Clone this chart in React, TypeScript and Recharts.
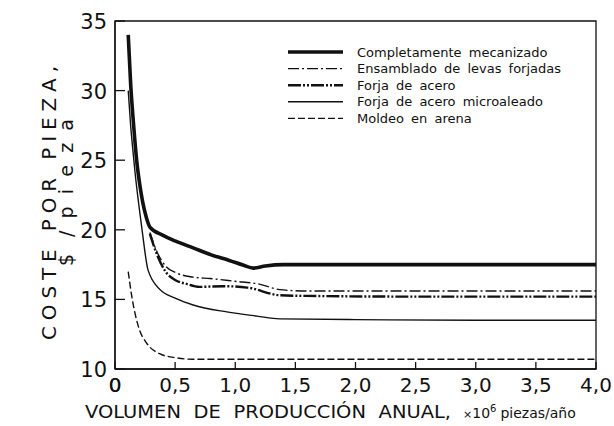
import { LineChart, Line, XAxis, YAxis, ReferenceArea, Legend } from "recharts"

const X_TICKS = [0, 0.5, 1, 1.5, 2, 2.5, 3, 3.5, 4]
const Y_TICKS = [10, 15, 20, 25, 30, 35]

// Coste por pieza ($/pieza) vs volumen anual (x 10^6 piezas/año)
const mecanizadoX = [0.11, 0.13, 0.155, 0.18, 0.205, 0.23, 0.26, 0.29, 0.4, 0.5, 0.65, 0.8, 0.95, 1.07, 1.15, 1.25, 1.4, 2.0, 3.0, 4.0]
const mecanizadoY = [34, 30.5, 27.5, 25, 23.3, 22, 20.9, 20.2, 19.6, 19.2, 18.7, 18.2, 17.8, 17.45, 17.25, 17.4, 17.5, 17.5, 17.5, 17.5]

const levasX = [0.29, 0.35, 0.42, 0.51, 0.65, 0.79, 1.0, 1.2, 1.37, 1.6, 2.5, 4.0]
const levasY = [19.8, 18.4, 17.4, 16.9, 16.6, 16.5, 16.3, 16.1, 15.7, 15.6, 15.6, 15.6]

const forjaX = [0.29, 0.35, 0.42, 0.5, 0.6, 0.7, 0.9, 1.1, 1.37, 1.6, 2.5, 4.0]
const forjaY = [19.7, 18.2, 17.0, 16.4, 16.1, 15.9, 15.95, 15.85, 15.3, 15.25, 15.2, 15.2]

const microX = [0.11, 0.13, 0.15, 0.167, 0.195, 0.225, 0.275, 0.375, 0.5, 0.65, 0.93, 1.18, 1.37, 2.0, 3.0, 4.0]
const microY = [30, 27.5, 25.6, 24.1, 22, 20, 17.1, 15.7, 15.1, 14.6, 14.1, 13.8, 13.6, 13.55, 13.5, 13.5]

const arenaX = [0.11, 0.14, 0.2, 0.26, 0.37, 0.51, 0.65, 1.0, 2.0, 3.0, 4.0]
const arenaY = [17, 15.2, 12.9, 11.9, 11.1, 10.8, 10.7, 10.7, 10.7, 10.7, 10.7]

const SERIES_NAMES = [
  "Completamente mecanizado",
  "Ensamblado de levas forjadas",
  "Forja de acero",
  "Forja de acero microaleado",
  "Moldeo en arena",
]

const toPoints = (xs: number[], ys: number[]) => xs.map((x, i) => ({ x, y: ys[i] }))

const SERIES = [
  { name: SERIES_NAMES[0], data: toPoints(mecanizadoX, mecanizadoY), width: 3.6, dash: undefined },
  { name: SERIES_NAMES[1], data: toPoints(levasX, levasY), width: 1.4, dash: "11 3 2 3" },
  { name: SERIES_NAMES[2], data: toPoints(forjaX, forjaY), width: 2.4, dash: "13 2 2 2 2 2" },
  { name: SERIES_NAMES[3], data: toPoints(microX, microY), width: 1.4, dash: undefined },
  { name: SERIES_NAMES[4], data: toPoints(arenaX, arenaY), width: 1.4, dash: "7 3" },
]

const INK = "#111"
const FONT = "DejaVu Sans, sans-serif"

// plot box edges in page pixels (from the chart margins below)
const PLOT_LEFT = 115
const PLOT_BOTTOM = 369

const fmtX = (v: number) => (Math.abs(Number(v)) < 1e-6 ? "0" : Number(v).toFixed(1).replace(".", ","))

function renderYTick(props: any) {
  const { x, y, payload } = props
  return (
    <g key={`yt-${payload.value}`}>
      <line x1={x} x2={x + 10} y1={y} y2={y} stroke={INK} strokeWidth={1.3} />
      <text x={x - 8} y={y + 1} textAnchor="end" dominantBaseline="central" fontSize={21} fontFamily={FONT} fill={INK}>
        {payload.value}
      </text>
    </g>
  )
}

function XTitle() {
  return (
    <g fill={INK} fontFamily={FONT}>
      <text x={85} y={418} fontSize={18} textLength={366} lengthAdjust="spacingAndGlyphs" wordSpacing={6}>
        VOLUMEN DE PRODUCCIÓN ANUAL,
      </text>
      <text x={463} y={418} fontSize={14}>
        <tspan fontSize={11}>×</tspan>
        <tspan>10</tspan>
        <tspan fontSize={10} dy={-6}>6</tspan>
        <tspan dy={6} dx={4}>piezas/año</tspan>
      </text>
    </g>
  )
}

function YTitle() {
  return (
    <g fill={INK} fontFamily={FONT}>
      <text
        x={0}
        y={0}
        transform="translate(56 203) rotate(-90)"
        textAnchor="middle"
        fontSize={20}
        textLength={274}
        lengthAdjust="spacing"
      >
        COSTE POR PIEZA,
      </text>
      <text x={0} y={0} transform="translate(73 266) rotate(-90)" fontSize={19}>
        $
      </text>
      <text x={0} y={0} transform="translate(73 237) rotate(-90)" fontSize={19} textLength={118} lengthAdjust="spacing">
        /pieza
      </text>
    </g>
  )
}

function LegendBox() {
  return (
    <svg width={330} height={90} style={{ display: "block" }}>
      {SERIES.map((s, i) => {
        const y = 10 + i * 16.6
        return (
          <g key={s.name}>
            <line x1={3} x2={58} y1={y} y2={y} stroke={INK} strokeWidth={s.width} strokeDasharray={s.dash} />
            <text x={72} y={y} dominantBaseline="central" fontSize={13} fontFamily={FONT} fill={INK} wordSpacing={3}>
              {s.name}
            </text>
          </g>
        )
      })}
    </svg>
  )
}

export default function App() {
  return (
    <div style={{ position: "fixed", left: 0, top: 0, width: 614, height: 426, background: "#fff" }}>
      <LineChart width={614} height={426} margin={{ top: 21, right: 18, bottom: 0, left: 0 }}>
        <ReferenceArea x1={0} x2={4} y1={10} y2={35} fill="none" stroke={INK} strokeWidth={1.3} />
        <XAxis
          type="number"
          dataKey="x"
          domain={[0, 4]}
          ticks={X_TICKS}
          interval={0}
          height={57}
          tickSize={-7}
          tickMargin={16}
          tickFormatter={fmtX}
          tick={{ fontSize: 20, fontFamily: FONT, fill: INK }}
          tickLine={{ stroke: INK, strokeWidth: 1.3 }}
          axisLine={{ stroke: INK, strokeWidth: 1.3 }}
          allowDataOverflow
          label={<XTitle />}
        />
        <YAxis
          type="number"
          domain={[10, 35]}
          ticks={Y_TICKS}
          interval={0}
          width={115}
          tickSize={0}
          tickMargin={0}
          tickLine={false}
          tick={renderYTick}
          axisLine={{ stroke: INK, strokeWidth: 1.3 }}
          allowDataOverflow
          label={<YTitle />}
        />
        <Legend
          layout="horizontal"
          verticalAlign="middle"
          content={<LegendBox />}
          wrapperStyle={{ position: "absolute", left: 285, top: 42, width: 330 }}
        />
        {SERIES.map((s) => (
          <Line
            key={s.name}
            name={s.name}
            data={s.data}
            dataKey="y"
            type="monotone"
            stroke={INK}
            strokeWidth={s.width}
            strokeDasharray={s.dash}
            dot={false}
            activeDot={false}
            isAnimationActive={false}
          />
        ))}
      </LineChart>
      {/* origin label: the axis drops its first tick label in this setup */}
      <span
        style={{
          position: "absolute",
          left: PLOT_LEFT,
          top: PLOT_BOTTOM + 16,
          transform: "translate(-50%, -50%)",
          fontFamily: FONT,
          fontSize: 20,
          lineHeight: "20px",
          color: INK,
          zIndex: 10,
          pointerEvents: "none",
        }}
      >
        {fmtX(X_TICKS[0])}
      </span>
    </div>
  )
}
